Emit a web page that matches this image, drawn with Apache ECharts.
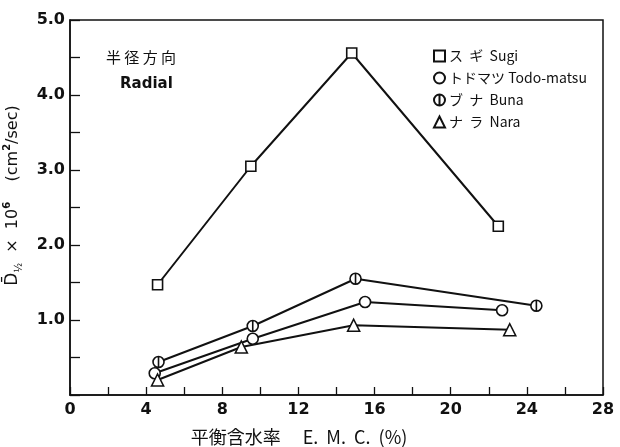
<!DOCTYPE html>
<html>
<head>
<meta charset="utf-8">
<script src="https://cdn.jsdelivr.net/npm/echarts@6/dist/echarts.min.js"></script>
<style>
  html, body { margin: 0; padding: 0; background: #fff; }
  #chart { width: 620px; height: 447px; }
</style>
</head>
<body>
<div id="chart"></div>
<script>
// Radial diffusion coefficient vs. equilibrium moisture content, four species
const speciesNames = ['ス  ギ  Sugi', 'トドマツ Todo-matsu', 'ブ  ナ  Buna', 'ナ  ラ  Nara'];

// [E.M.C. (%), D x 10^6 (cm^2/sec)]
const sugi = [[4.6, 1.47], [9.5, 3.05], [14.8, 4.56], [22.5, 2.25]];
const todomatsu = [[4.45, 0.29], [9.6, 0.75], [15.5, 1.24], [22.7, 1.13]];
const buna = [[4.65, 0.44], [9.6, 0.92], [15.0, 1.55], [24.5, 1.19]];
const nara = [[4.6, 0.20], [9.0, 0.64], [14.9, 0.93], [23.1, 0.87]];

const xTicks = [0, 4, 8, 12, 16, 20, 24, 28];
const yTicks = [0, 1, 2, 3, 4, 5];

const ink = '#111';
const circleBar = 'path://M0,-10A10,10 0 1,1 0,10A10,10 0 1,1 0,-10Z M0,-10L0,10';

function makeSeries(name, data, symbol, size) {
  return {
    name: name,
    type: 'line',
    data: data,
    symbol: symbol,
    symbolSize: size,
    showAllSymbol: true,
    lineStyle: { color: ink, width: 2 },
    itemStyle: { color: '#fff', borderColor: ink, borderWidth: 1.6 },
    emphasis: { disabled: true },
    z: 3
  };
}

const chart = echarts.init(document.getElementById('chart'), null, { renderer: 'canvas' });

chart.setOption({
  animation: false,
  backgroundColor: '#fff',
  grid: {
    left: 70, right: 17, top: 20, bottom: 52,
    outerBoundsMode: 'none',
    containLabel: false,
    show: true, borderColor: ink, borderWidth: 1.5, backgroundColor: 'transparent'
  },
  xAxis: {
    type: 'value',
    min: xTicks[0],
    max: xTicks[xTicks.length - 1],
    interval: 4,
    axisLine: { show: true, lineStyle: { color: ink, width: 1.5 } },
    axisTick: { show: true, inside: true, length: 8, lineStyle: { color: ink, width: 1.3 } },
    minorTick: { show: true, splitNumber: 2, length: 8, lineStyle: { color: ink, width: 1.3 } },
    splitLine: { show: false },
    axisLabel: {
      color: ink, fontSize: 16, fontWeight: 'bold', fontFamily: 'DejaVu Sans', margin: 7
    },
    name: '平衡含水率　 E.  M.  C.  (%)',
    nameLocation: 'middle',
    nameGap: 33,
    nameTextStyle: {
      color: ink, fontSize: 18, fontFamily: 'Noto Sans CJK JP', padding: [0, 75, 0, 0]
    }
  },
  yAxis: {
    type: 'value',
    min: yTicks[0],
    max: yTicks[yTicks.length - 1],
    interval: 1,
    axisLine: { show: true, lineStyle: { color: ink, width: 1.5 } },
    axisTick: { show: true, inside: true, length: 10, lineStyle: { color: ink, width: 1.3 } },
    minorTick: { show: true, splitNumber: 2, length: 10, lineStyle: { color: ink, width: 1.3 } },
    splitLine: { show: false },
    axisLabel: {
      color: ink, fontSize: 16, fontWeight: 'bold', fontFamily: 'DejaVu Sans', margin: 5,
      formatter: function (v) { return v === 0 ? '' : v.toFixed(1); }
    },
    name: '{d|D̄}{s|½}{t|  ×  10}{sup|6}{t|    (cm}{sup|2}{t|/sec)}',
    nameLocation: 'middle',
    nameRotate: 90,
    nameGap: 46,
    nameTextStyle: {
      color: ink,
      fontFamily: 'DejaVu Sans',
      padding: [0, 0, 0, 24],
      rich: {
        d: { fontSize: 17, fontFamily: 'DejaVu Sans', color: ink, lineHeight: 22 },
        s: { fontSize: 10, fontFamily: 'DejaVu Sans', color: ink, lineHeight: 22, verticalAlign: 'bottom' },
        t: { fontSize: 16, fontFamily: 'DejaVu Sans', color: ink, lineHeight: 22 },
        sup: { fontSize: 10, fontFamily: 'DejaVu Sans', fontWeight: 'bold', color: ink, lineHeight: 22, verticalAlign: 'top' }
      }
    }
  },
  legend: {
    orient: 'vertical',
    left: 428,
    top: 44,
    itemWidth: 11,
    itemHeight: 11,
    itemGap: 8,
    selectedMode: false,
    textStyle: { color: ink, fontSize: 14, fontFamily: 'Noto Sans CJK JP', padding: [0, 0, 0, -1] },
    data: [
      { name: speciesNames[0], icon: 'rect' },
      { name: speciesNames[1], icon: 'circle' },
      { name: speciesNames[2], icon: circleBar },
      { name: speciesNames[3], icon: 'triangle' }
    ]
  },
  graphic: [
    {
      type: 'text', left: 106, top: 50,
      style: { text: '半 径 方 向', fill: ink, font: '15px "Noto Sans CJK JP"' }
    },
    {
      type: 'text', left: 120, top: 77,
      style: { text: 'Radial', fill: ink, font: 'bold 15px "DejaVu Sans"' }
    }
  ],
  series: [
    makeSeries(speciesNames[0], sugi, 'rect', 10),
    makeSeries(speciesNames[1], todomatsu, 'circle', 11),
    makeSeries(speciesNames[2], buna, circleBar, 11),
    makeSeries(speciesNames[3], nara, 'triangle', 12)
  ]
});
</script>
</body>
</html>
